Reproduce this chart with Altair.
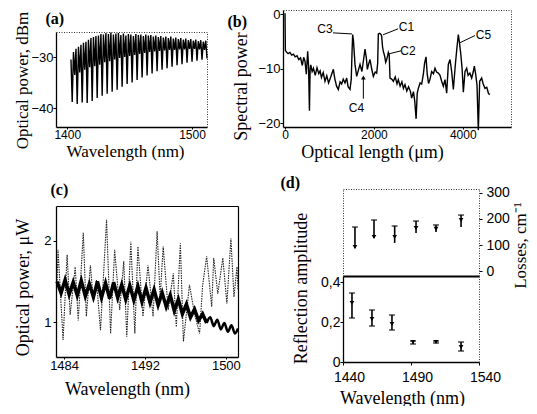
import altair as alt
import numpy as np
import pandas as pd

SANS = "Liberation Sans"
SERIF = "Liberation Serif"
W, H = 521, 398  # drawing area (page coords minus the 8px margin)

# ---------------- (a) spectrum, sampled every 1 nm from 1403 nm ----------------
a_start = 1403
a_power = [
    -30.5, -38.8, -29.0, -33.5, -28.4, -39.2, -28.0, -33.0, -27.6, -38.9,
    -27.2, -32.5, -27.0, -39.0, -26.6, -32.0, -26.3, -38.6, -26.1, -31.8,
    -25.9, -38.0, -25.8, -31.5, -25.5, -37.6, -25.6, -31.0, -25.3, -37.2,
    -25.5, -30.8, -25.2, -36.8, -25.6, -30.5, -25.4, -36.4, -25.3, -30.2,
    -25.7, -35.8, -25.4, -30.0, -25.8, -35.3, -25.5, -29.8, -25.6, -35.0,
    -25.9, -29.6, -25.5, -34.5, -25.7, -29.4, -25.6, -34.0, -25.9, -29.2,
    -25.6, -33.6, -25.8, -29.0, -25.7, -33.2, -26.0, -28.9, -25.8, -32.8,
    -26.1, -28.8, -25.9, -32.5, -26.2, -28.7, -26.0, -32.2, -26.3, -28.6,
    -26.0, -31.9, -26.4, -28.6, -26.2, -31.6, -26.5, -28.5, -26.3, -31.4,
    -26.6, -28.5, -26.4, -31.1, -26.7, -28.4, -26.5, -30.9, -26.8, -28.4,
    -26.6, -30.7, -26.9, -28.5, -26.7, -30.5, -27.0, -28.6, -26.8, -30.3,
]

# ---------------- (b) reflectogram ----------------
b_len = [
    0, 8, 30, 70, 110, 150, 190, 230, 270, 310,
    350, 390, 420, 450, 480, 510, 530, 550, 565, 580,
    610, 640, 680, 720, 760, 790, 820, 860, 900, 940,
    980, 1013, 1050, 1088, 1120, 1160, 1200, 1240, 1275, 1310,
    1350, 1388, 1420, 1463, 1490, 1510, 1523, 1540, 1575, 1613,
    1650, 1688, 1730, 1770, 1800, 1830, 1853, 1880, 1913, 1950,
    1988, 2030, 2063, 2085, 2100, 2130, 2160, 2175, 2195, 2213,
    2240, 2265, 2288, 2310, 2325, 2345, 2363, 2400, 2438, 2480,
    2520, 2550, 2590, 2630, 2665, 2700, 2740, 2780, 2820, 2850,
    2890, 2920, 2950, 2975, 3000, 3040, 3075, 3113, 3140, 3173,
    3200, 3230, 3263, 3300, 3340, 3375, 3410, 3450, 3488, 3525,
    3563, 3600, 3638, 3675, 3713, 3750, 3788, 3830, 3870, 3900,
    3925, 3953, 3985, 4013, 4050, 4088, 4120, 4160, 4200, 4235,
    4260, 4290, 4320, 4350, 4380, 4425, 4460, 4500, 4540, 4580,
    4615,
]
b_pow = [
    0.2, -6.6, -6.9, -7.2, -7.0, -7.5, -7.3, -7.8, -7.6, -8.3,
    -8.0, -9.4, -7.9, -8.6, -11.0, -6.8, -9.5, -17.7, -10.2, -9.3,
    -10.5, -9.9, -11.2, -9.8, -10.9, -10.4, -11.6, -10.7, -12.3, -11.3,
    -12.6, -11.9, -11.0, -10.1, -11.8, -13.2, -13.8, -12.4, -12.8, -11.9,
    -12.6, -11.7, -13.3, -13.8, -12.0, -6.5, -3.7, -4.8, -9.2, -11.4,
    -10.3, -9.2, -10.5, -8.2, -6.4, -8.0, -10.1, -9.2, -8.3, -10.0,
    -11.4, -10.6, -10.8, -9.0, -3.6, -3.5, -3.7, -4.0, -6.0, -6.8,
    -7.6, -8.8, -8.3, -7.6, -7.0, -7.5, -11.7, -11.9, -12.3, -11.5,
    -12.8, -12.0, -13.2, -12.4, -13.6, -12.9, -14.1, -13.3, -14.1, -15.4,
    -14.2, -16.0, -19.2, -14.5, -13.6, -12.6, -12.8, -11.0, -9.0, -7.8,
    -11.0, -12.7, -11.9, -10.5, -10.9, -9.9, -10.6, -10.8, -11.2, -12.3,
    -13.2, -12.0, -14.5, -9.2, -8.3, -10.5, -13.8, -9.5, -6.0, -3.7,
    -5.2, -7.1, -10.0, -14.3, -10.5, -9.9, -11.2, -10.8, -11.7, -10.6,
    -9.5, -11.0, -13.0, -21.3, -12.3, -11.7, -12.8, -13.6, -13.4, -14.6,
    -14.7,
]
b_lab = ["C3", "C1", "C2", "C4", "C5"]
b_lab_x = [900, 2734, 2768, 1609, 4466]
b_lab_y = [-2.66, -2.3, -6.7, -17.3, -3.76]
b_lead_x1 = [1080, 2205, 2340, 1763, 3938]
b_lead_y1 = [-3.4, -3.76, -7.25, -15.5, -5.2]
b_lead_x2 = [1508, 2543, 2610, 1763, 4275]
b_lead_y2 = [-3.6, -2.66, -6.7, -11.6, -3.9]

# ---------------- (c) two spectra ----------------
c_dot_wl = [
    1483.3, 1483.4, 1483.9, 1484.3, 1484.6, 1485.1, 1485.4, 1485.9, 1486.2, 1486.6,
    1486.9, 1487.2, 1487.6, 1488.2, 1488.6, 1489.0, 1489.5, 1489.9, 1490.2, 1490.6,
    1491.0, 1491.3, 1491.8, 1492.3, 1492.8, 1493.2, 1493.5, 1493.8, 1494.3, 1494.8,
    1495.1, 1495.5, 1495.8, 1496.4, 1496.9, 1497.4, 1497.7, 1498.1, 1498.6, 1498.8,
    1499.2, 1499.7, 1500.1, 1500.5, 1500.8, 1501.1, 1501.2,
]
c_dot_p = [
    1.45, 1.89, 0.78, 1.83, 1.09, 1.68, 1.02, 2.10, 1.07, 1.70,
    1.25, 1.52, 0.90, 2.26, 0.86, 1.89, 1.15, 1.75, 0.82, 1.99,
    0.86, 1.93, 1.07, 1.70, 1.07, 2.12, 1.30, 1.93, 1.15, 1.60,
    0.94, 1.97, 0.76, 1.46, 1.10, 0.86, 1.45, 1.81, 1.19, 1.79,
    1.35, 1.79, 1.23, 2.03, 1.31, 1.68, 1.40,
]
c_blk_start = 1483.3
c_blk_step = 0.4
c_blk_p = [
    1.50, 1.36, 1.52, 1.34, 1.49, 1.33, 1.51, 1.32, 1.47, 1.31,
    1.50, 1.30, 1.48, 1.29, 1.49, 1.30, 1.46, 1.28, 1.45, 1.27,
    1.44, 1.25, 1.42, 1.24, 1.40, 1.21, 1.36, 1.19, 1.33, 1.14,
    1.28, 1.10, 1.22, 1.06, 1.16, 1.02, 1.10, 0.99,
]
c_tail_wl = [1498.1, 1498.45, 1498.8, 1499.15, 1499.5, 1499.85, 1500.2, 1500.55, 1500.9, 1501.2]
c_tail_p = [0.99, 1.06, 0.95, 1.03, 0.91, 0.99, 0.88, 0.96, 0.86, 0.92]

# ---------------- (d) losses and reflection amplitude ----------------
d_loss_wl = [1448.8, 1462.8, 1478.0, 1493.7, 1508.4, 1526.8]
d_loss = [92, 131, 131, 165, 162, 196]
d_loss_lo = [88, 127, 108, 146, 150, 169]
d_loss_hi = [169, 196, 173, 192, 177, 215]
d_ref_wl = [1446.6, 1461.3, 1476.0, 1491.5, 1508.4, 1526.8]
d_ref = [0.295, 0.215, 0.19, 0.10, 0.10, 0.075]
d_ref_lo = [0.22, 0.18, 0.16, 0.09, 0.095, 0.055]
d_ref_hi = [0.345, 0.26, 0.235, 0.105, 0.105, 0.10]


def sc(dom, rng):
    return alt.Scale(domain=dom, range=rng, nice=False, zero=False)


def ax(**kw):
    base = dict(labelFont=SANS, labelFontSize=13, labelColor="black",
                titleFont=SERIF, titleFontSize=17, titleFontWeight="normal",
                titleColor="black", domainColor="black", domainWidth=1.3,
                tickColor="black", tickSize=3, labelPadding=1, grid=False)
    base.update(kw)
    return alt.Axis(**base)


def frame_ax(orient, offset, dotted=True, letter="", lx=0, ly=0):
    kw = dict(orient=orient, offset=offset, labels=False, ticks=False,
              domainColor="#333" if dotted else "black",
              domainWidth=1 if dotted else 1.2, title=letter)
    if dotted:
        kw["domainDash"] = [1, 1.5]
    if letter:
        kw.update(titleX=lx, titleY=ly, titleAlign="left", titleBaseline="top",
                  titleAngle=0, titleFontSize=16, titleFontWeight="bold")
    return ax(**kw)


# ---- panel (a)
AXa = sc([1391, 1512], [48, 199])
AYa = sc([-43.7, -25.1], [119, 24])
a_df = pd.DataFrame({"wl": a_start + np.arange(len(a_power)), "p": a_power})
a_line = alt.Chart(a_df).mark_line(color="black", strokeWidth=1.4).encode(
    x=alt.X("wl:Q", scale=AXa,
            axis=ax(orient="bottom", offset=119 - H, values=[1400, 1500], format="d",
                    labelFontSize=12, tickSize=2, labelPadding=0,
                    title="Wavelength (nm)", titleX=117, titleY=16)),
    y=alt.Y("p:Q", scale=AYa,
            axis=ax(orient="left", offset=-48, values=[-30, -40], labelPadding=0,
                    title="Optical power, dBm", titleX=-25, titleY=72)))
a_frame = alt.Chart(a_df).mark_line(opacity=0).encode(
    x=alt.X("wl:Q", scale=AXa, axis=frame_ax("top", -24, letter="(a)", lx=37, ly=-22)),
    y=alt.Y("p:Q", scale=AYa, axis=frame_ax("right", 199 - W)))

# ---- panel (b)
AXb = sc([-45, 5085], [275, 503])
AYb = sc([-20.7, 0.8], [119, 2])
b_df = pd.DataFrame({"L": b_len, "s": b_pow})
b_line = alt.Chart(b_df).mark_line(color="black", strokeWidth=1.4).encode(
    x=alt.X("L:Q", scale=AXb,
            axis=ax(orient="bottom", offset=119 - H, values=[0, 2000, 4000], format="d",
                    labelFontSize=12, tickSize=2, labelPadding=0, title="Optical length (μm)",
                    titleFontSize=18, titleX=364, titleY=16)),
    y=alt.Y("s:Q", scale=AYb,
            axis=ax(orient="left", offset=-275, values=[0, -10, -20], labelPadding=0,
                    title="Spectral power", titleFontSize=18, titleX=-33, titleY=78)))
b_frame = alt.Chart(b_df).mark_line(opacity=0).encode(
    x=alt.X("L:Q", scale=AXb, axis=frame_ax("top", -2, letter="(b)", lx=219, ly=3)),
    y=alt.Y("s:Q", scale=AYb, axis=frame_ax("right", 503 - W)))
ann = pd.DataFrame({"t": b_lab, "tx": b_lab_x, "ty": b_lab_y,
                    "x1": b_lead_x1, "y1": b_lead_y1, "x2": b_lead_x2, "y2": b_lead_y2})
b_lead = alt.Chart(ann).mark_rule(color="black", strokeWidth=1).encode(
    x=alt.X("x1:Q", scale=AXb, axis=None), y=alt.Y("y1:Q", scale=AYb, axis=None),
    x2="x2:Q", y2="y2:Q")
b_text = alt.Chart(ann).mark_text(font=SANS, fontSize=12, color="black").encode(
    x=alt.X("tx:Q", scale=AXb, axis=None), y=alt.Y("ty:Q", scale=AYb, axis=None), text="t:N")
b_head = alt.Chart(ann[ann.t == "C4"]).mark_point(
    shape="triangle-up", filled=True, color="black", size=22, opacity=1).encode(
    x=alt.X("x2:Q", scale=AXb, axis=None), y=alt.Y("y2:Q", scale=AYb, axis=None))

# ---- panel (c)
AXc = sc([1483.2, 1501.2], [48, 230])
AYc = sc([0.57, 2.43], [349, 198])
c_dot_df = pd.DataFrame({"wl": c_dot_wl, "p": c_dot_p})
c_dot = alt.Chart(c_dot_df).mark_line(color="#222", strokeWidth=1.1, strokeDash=[1.5, 1]).encode(
    x=alt.X("wl:Q", scale=AXc,
            axis=ax(orient="bottom", offset=349 - H, values=[1484, 1492, 1500], format="d",
                    tickSize=2, labelPadding=0, title="Wavelength (nm)", titleFontSize=18,
                    titleX=119, titleY=23)),
    y=alt.Y("p:Q", scale=AYc,
            axis=ax(orient="left", offset=-48, values=[1, 2], labelPadding=2,
                    title="Optical power, μW", titleFontSize=18, titleX=-24, titleY=279)))
c_blk_df = pd.DataFrame({"wl": np.round(c_blk_start + c_blk_step * np.arange(len(c_blk_p)), 2),
                         "p": c_blk_p})
c_blk = alt.Chart(c_blk_df).mark_line(color="black", strokeWidth=3.5).encode(
    x=alt.X("wl:Q", scale=AXc, axis=None), y=alt.Y("p:Q", scale=AYc, axis=None))
c_tail = alt.Chart(pd.DataFrame({"wl": c_tail_wl, "p": c_tail_p})).mark_line(
    color="black", strokeWidth=2.5, interpolate="monotone").encode(
    x=alt.X("wl:Q", scale=AXc, axis=None), y=alt.Y("p:Q", scale=AYc, axis=None))
c_frame = alt.Chart(c_dot_df).mark_line(opacity=0).encode(
    x=alt.X("wl:Q", scale=AXc, axis=frame_ax("top", -198, dotted=False, letter="(c)", lx=42, ly=-25)),
    y=alt.Y("p:Q", scale=AYc, axis=frame_ax("right", 230 - W, dotted=False)))

# ---- panel (d), upper part: losses
AXd = sc([1440, 1540], [335, 471])
AYu = sc([-19, 315], [268, 181])
up_df = pd.DataFrame({"wl": d_loss_wl, "v": d_loss, "lo": d_loss_lo, "hi": d_loss_hi})
u_rule = alt.Chart(up_df).mark_rule(color="black", strokeWidth=1.6).encode(
    x=alt.X("wl:Q", scale=AXd,
            axis=ax(orient="bottom", offset=268 - H, labels=False, ticks=False, title="",
                    domainWidth=2)),
    y=alt.Y("lo:Q", scale=AYu,
            axis=ax(orient="right", offset=471 - W, values=[0, 100, 200, 300], labelFontSize=14,
                    labelPadding=4, domainColor="#333", domainWidth=1, domainDash=[1, 1.5],
                    title="Losses, cm⁻¹", titleAngle=270, titleBaseline="top",
                    titleX=33, titleY=237)),
    y2="hi:Q")
u_cap = alt.Chart(up_df).mark_tick(color="black", orient="horizontal", size=6, thickness=1.5).encode(
    x=alt.X("wl:Q", scale=AXd, axis=None), y=alt.Y("hi:Q", scale=AYu, axis=None))
u_pt = alt.Chart(up_df).mark_point(shape="triangle-down", filled=True, color="black",
                                   size=22, opacity=1).encode(
    x=alt.X("wl:Q", scale=AXd, axis=None), y=alt.Y("v:Q", scale=AYu, axis=None))
u_frame = alt.Chart(up_df).mark_point(opacity=0).encode(
    x=alt.X("wl:Q", scale=AXd, axis=frame_ax("top", -181, letter="(d)", lx=272, ly=-15)),
    y=alt.Y("v:Q", scale=AYu, axis=frame_ax("left", -335)))

# ---- panel (d), lower part: reflection amplitude
AYl = sc([0, 0.43], [354, 268])
lo_df = pd.DataFrame({"wl": d_ref_wl, "v": d_ref, "lo": d_ref_lo, "hi": d_ref_hi})
l_rule = alt.Chart(lo_df).mark_rule(color="black", strokeWidth=1.6).encode(
    x=alt.X("wl:Q", scale=AXd,
            axis=ax(orient="bottom", offset=354 - H, values=[1440, 1490, 1540], format="d",
                    labelFontSize=14, labelPadding=5, labelFlush=False, labelOffset=6,
                    title="Wavelength (nm)", titleFontSize=18, titleX=394, titleY=27)),
    y=alt.Y("lo:Q", scale=AYl,
            axis=ax(orient="left", offset=-335, values=[0, 0.2, 0.4], labelFontSize=14,
                    labelPadding=0,
                    labelExpr="datum.value == 0 ? '0' : replace(format(datum.value, '.1f'), '.', ',')",
                    title="Reflection amplitude", titleFontSize=18, titleX=-33, titleY=280)),
    y2="hi:Q")
l_cap = alt.Chart(lo_df).mark_tick(color="black", orient="horizontal", size=6, thickness=1.5).encode(
    x=alt.X("wl:Q", scale=AXd, axis=None), y=alt.Y("hi:Q", scale=AYl, axis=None))
l_cap2 = alt.Chart(lo_df).mark_tick(color="black", orient="horizontal", size=6, thickness=1.5).encode(
    x=alt.X("wl:Q", scale=AXd, axis=None), y=alt.Y("lo:Q", scale=AYl, axis=None))
l_pt = alt.Chart(lo_df).mark_point(shape="triangle-down", filled=True, color="black",
                                   size=22, opacity=1).encode(
    x=alt.X("wl:Q", scale=AXd, axis=None), y=alt.Y("v:Q", scale=AYl, axis=None))
l_frame = alt.Chart(lo_df).mark_point(opacity=0).encode(
    x=alt.X("wl:Q", scale=AXd, axis=None),
    y=alt.Y("v:Q", scale=AYl, axis=frame_ax("right", 471 - W)))

chart = alt.layer(
    a_line, a_frame,
    b_line, b_frame, b_lead, b_text, b_head,
    c_dot, c_blk, c_tail, c_frame,
    u_rule, u_cap, u_pt, u_frame,
    l_rule, l_cap, l_cap2, l_pt, l_frame,
).resolve_scale(x="independent", y="independent").resolve_axis(
    x="independent", y="independent").properties(
    width=W, height=H, padding=0, background="white",
    autosize=alt.AutoSizeParams(type="none")).configure_view(stroke="transparent")

chart.save("out.html", embed_options={"renderer": "svg", "actions": False})
